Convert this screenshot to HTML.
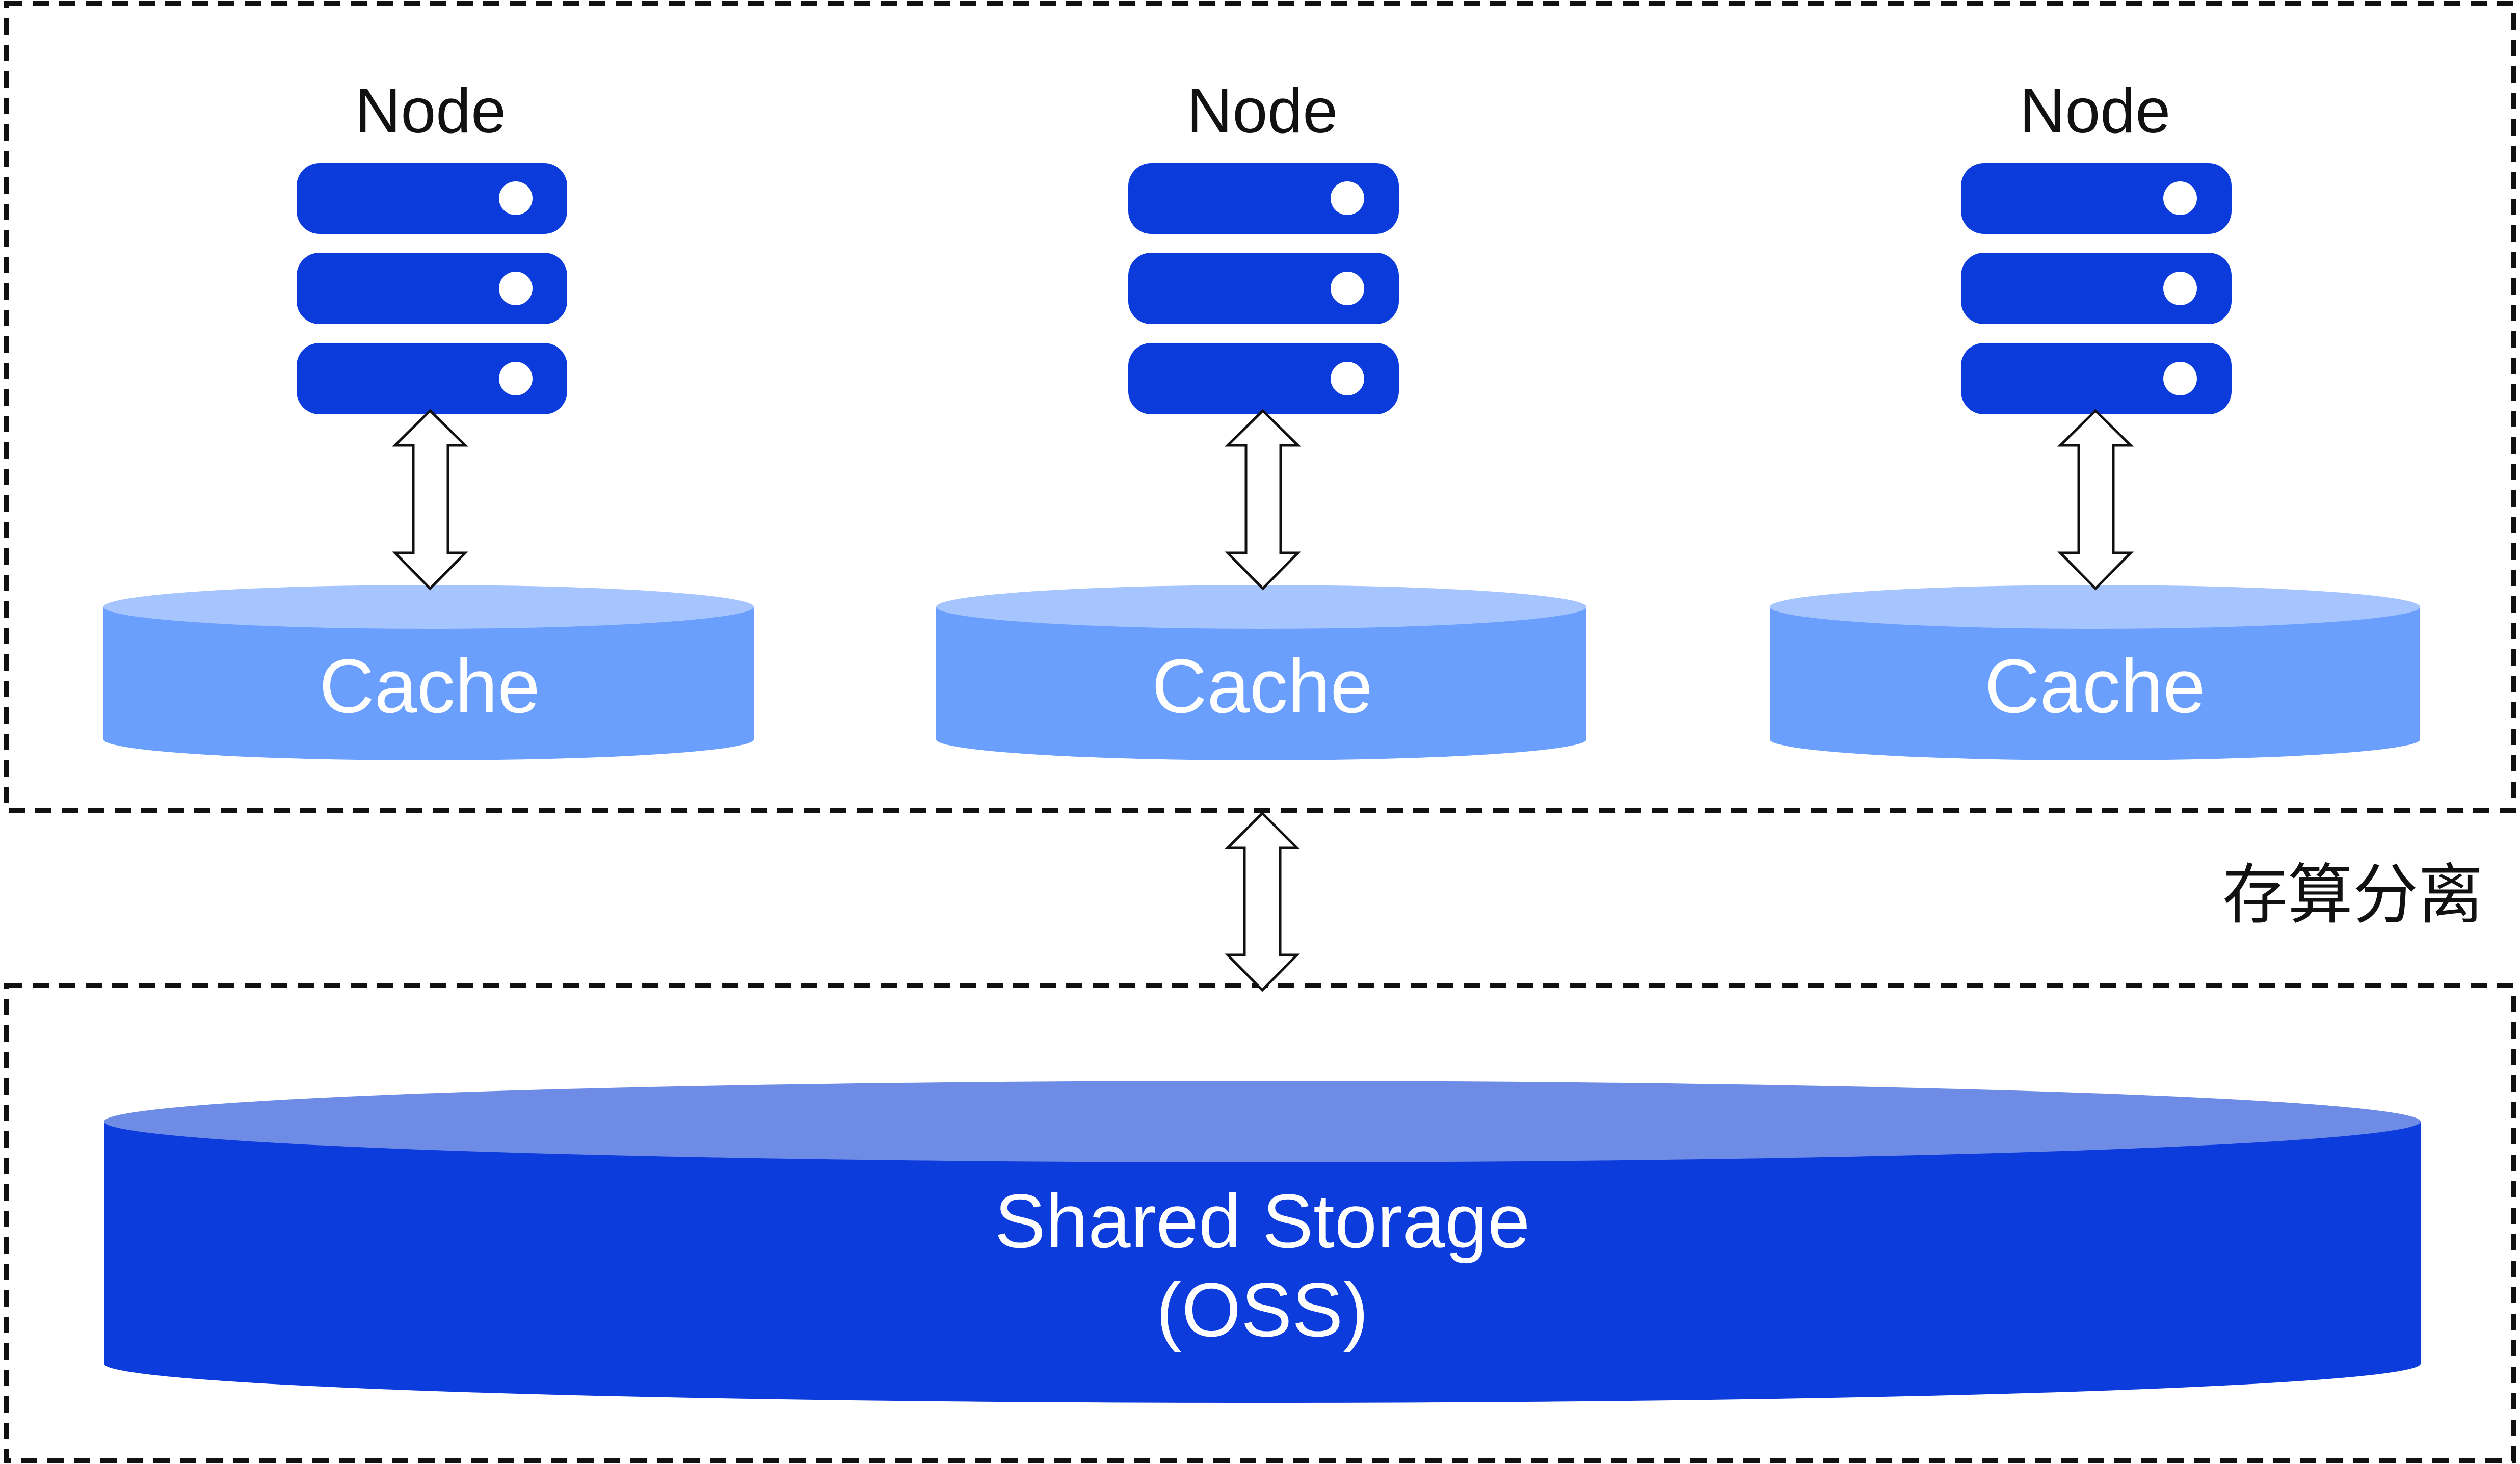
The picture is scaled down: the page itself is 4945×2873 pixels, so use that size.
<!DOCTYPE html>
<html><head><meta charset="utf-8"><style>
html,body{margin:0;padding:0;background:#fff;}
svg{display:block;}
</style></head><body>
<svg width="4945" height="2873" viewBox="0 0 4945 2873" xmlns="http://www.w3.org/2000/svg">
<defs>
<g id="srv">
<rect x="-263" y="320" width="531" height="139" rx="45" fill="#0b3bdb"/>
<rect x="-263" y="496" width="531" height="140" rx="45" fill="#0b3bdb"/>
<rect x="-263" y="673" width="531" height="140" rx="45" fill="#0b3bdb"/>
<circle cx="167" cy="389" r="33" fill="#fff"/>
<circle cx="167" cy="566" r="33" fill="#fff"/>
<circle cx="167" cy="743" r="33" fill="#fff"/>
</g>
<g id="cache">
<ellipse cx="0" cy="1451" rx="638" ry="41" fill="#6a9ffd"/>
<rect x="-638" y="1191" width="1276" height="260" fill="#6a9ffd"/>
<ellipse cx="0" cy="1191" rx="638" ry="43" fill="#a6c4fd"/>
</g>
<path id="arr" d="M0 806 L69 874 L35 874 L35 1085 L69 1085 L0 1155 L-69 1085 L-33 1085 L-33 874 L-69 874 Z" fill="#fff" stroke="#111" stroke-width="5" stroke-linejoin="miter"/>
</defs>

<rect x="12" y="6" width="4920" height="1585" fill="none" stroke="#111" stroke-width="10" stroke-dasharray="32 20"/>
<rect x="12" y="1934" width="4920" height="933" fill="none" stroke="#111" stroke-width="10" stroke-dasharray="32 20"/>

<g font-family="'Liberation Sans', sans-serif" font-size="124" fill="#111" text-anchor="middle">
<text x="845" y="260">Node</text>
<text x="2477" y="260">Node</text>
<text x="4111" y="260">Node</text>
</g>

<use href="#srv" x="845"/>
<use href="#srv" x="2477"/>
<use href="#srv" x="4111"/>

<use href="#cache" x="841"/>
<use href="#cache" x="2475"/>
<use href="#cache" x="4111"/>

<use href="#arr" x="844"/>
<use href="#arr" x="2478"/>
<use href="#arr" x="4112"/>

<g font-family="'Liberation Sans', sans-serif" font-size="150" fill="#fff" text-anchor="middle">
<text x="843" y="1398">Cache</text>
<text x="2477" y="1398">Cache</text>
<text x="4111" y="1398">Cache</text>
</g>

<path d="M2477 1596 L2545 1664 L2512 1664 L2512 1874 L2545 1874 L2477 1943 L2409 1874 L2442 1874 L2442 1664 L2409 1664 Z" fill="#fff" stroke="#111" stroke-width="5"/>

<text x="4617" y="1800" font-family="'Liberation Sans','Noto Sans CJK SC',sans-serif" font-size="128" fill="#111" text-anchor="middle">存算分离</text>

<ellipse cx="2477" cy="2676" rx="2273" ry="77" fill="#0c3cdb"/>
<rect x="204" y="2201" width="4546" height="475" fill="#0c3cdb"/>
<ellipse cx="2477" cy="2201" rx="2273" ry="80" fill="#6e8ce6"/>

<g font-family="'Liberation Sans', sans-serif" font-size="150" fill="#fff" text-anchor="middle">
<text x="2477" y="2448">Shared Storage</text>
<text x="2477" y="2622">(OSS)</text>
</g>
</svg>
</body></html>
